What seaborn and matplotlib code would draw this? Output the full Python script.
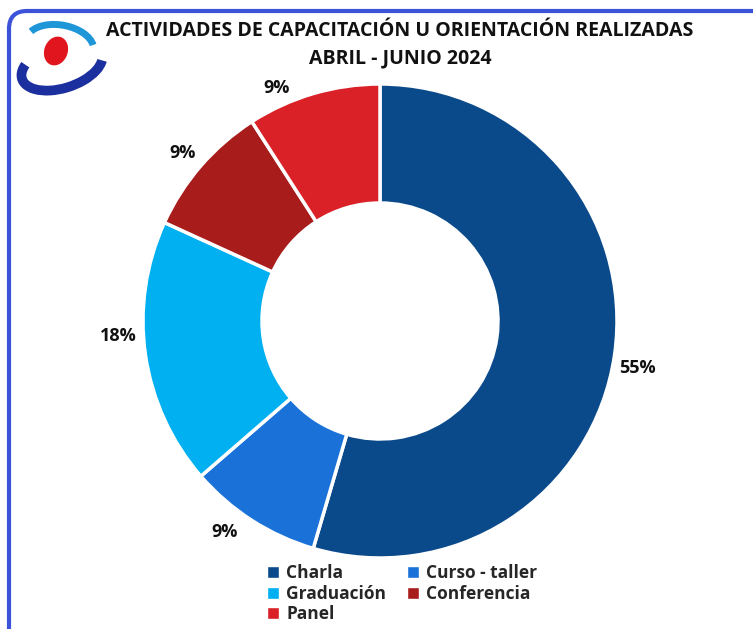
import numpy as np
import seaborn as sns
import matplotlib.pyplot as plt
from matplotlib.patches import FancyBboxPatch, Ellipse, Arc, Patch

# data
categories = ['Charla', 'Curso - taller', 'Graduación', 'Conferencia', 'Panel']
counts = [6, 1, 2, 1, 1]
colors = ['#0b4a8a', '#1a72d8', '#00b0f0', '#a91c1c', '#da2127']
# where the percentage labels sit (pixels from top-left), as in the original
label_pos = [(637, 368), (225, 532), (118, 336), (183, 153), (277, 88)]

sns.set_theme(style="white")
plt.rcParams['font.family'] = ['Open Sans', 'DejaVu Sans']

H = 629
fig = plt.figure(figsize=(7.53, 6.29), dpi=100)
ax = fig.add_axes([0, 0, 1, 1])


def py(y):
    # pixel row from top -> data y
    return H - y


# frame
frame = FancyBboxPatch((9, py(700)), 800, 689, boxstyle="round,pad=0,rounding_size=18",
                       fill=False, edgecolor='#3b52d9', linewidth=3)
ax.add_patch(frame)

# logo
ax.add_patch(Arc((62, py(66)), 84, 44, angle=18, theta1=160, theta2=350,
                 color='#1b2f9e', linewidth=7))
ax.add_patch(Arc((60, py(45)), 68, 40, angle=-10, theta1=10, theta2=165,
                 color='#1e96d8', linewidth=5))
ax.add_patch(Ellipse((56, py(51)), 22, 28, angle=-20, color='#e0151e'))

# donut
wedges, texts, autotexts = ax.pie(
    counts, colors=colors, startangle=90, counterclock=False,
    center=(380, py(321)), radius=237, autopct='%1.0f%%', pctdistance=1.1,
    wedgeprops=dict(width=119, edgecolor='white', linewidth=2.5),
    textprops=dict(fontsize=13, fontweight='bold', color='#111111'))
for t, (lx, ly) in zip(autotexts, label_pos):
    t.set_position((lx, py(ly)))
ax.set_xlim(0, 753)
ax.set_ylim(0, H)
ax.set_aspect('equal')
ax.axis('off')

# title
ax.text(400, py(31), 'ACTIVIDADES DE CAPACITACIÓN U ORIENTACIÓN REALIZADAS',
        ha='center', va='center', fontsize=14, fontweight='bold', color='#111111')
ax.text(400, py(58), 'ABRIL - JUNIO 2024',
        ha='center', va='center', fontsize=14, fontweight='bold', color='#111111')

# legend (row-major order)
order = [0, 2, 4, 1, 3]
handles = [Patch(facecolor=colors[i], label=categories[i]) for i in order]
leg = ax.legend(handles=handles, ncol=2, loc='upper left',
                bbox_to_anchor=(255 / 753, 1 - 552 / H), frameon=False,
                handlelength=0.7, handleheight=0.7, handletextpad=0.4,
                columnspacing=1.2, labelspacing=0.15, borderpad=0.2,
                prop=dict(size=12.5, weight='bold'))

fig.savefig('out.png', dpi=100, facecolor='white')
